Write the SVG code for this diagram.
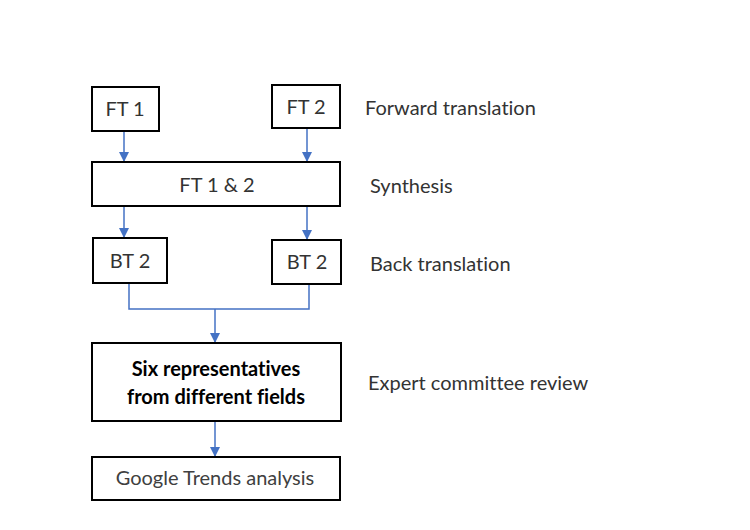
<svg xmlns="http://www.w3.org/2000/svg" width="750" height="530" viewBox="0 0 750 530">
<defs>
<marker id="ah" viewBox="0 0 10 10" refX="10" refY="5" markerWidth="10" markerHeight="10" markerUnits="userSpaceOnUse" orient="auto">
<path d="M0,0 L10,5 L0,10 z" fill="#4472C4"/>
</marker>
</defs>
<style>
.box{fill:#fff;stroke:#000;stroke-width:2}
.t{font-family:Lato,"Open Sans",sans-serif;font-size:20px;fill:#333;text-anchor:middle;font-variant-ligatures:none}
.b{font-weight:bold;fill:#000}
.lab{font-family:Lato,"Open Sans",sans-serif;font-size:20px;fill:#333;font-variant-ligatures:none}
.c{fill:none;stroke:#4472C4;stroke-width:1.5}
</style>
<rect width="750" height="530" fill="#fff"/>
<g id="connectors">
<line class="c" x1="124" y1="131" x2="124" y2="162" marker-end="url(#ah)"/>
<line class="c" x1="307" y1="128" x2="307" y2="162" marker-end="url(#ah)"/>
<line class="c" x1="124" y1="206" x2="124" y2="238" marker-end="url(#ah)"/>
<line class="c" x1="307" y1="206" x2="307" y2="240" marker-end="url(#ah)"/>
<path class="c" d="M129,283 V309 H309 V284"/>
<line class="c" x1="215" y1="309" x2="215" y2="343" marker-end="url(#ah)"/>
<line class="c" x1="215" y1="421" x2="215" y2="457" marker-end="url(#ah)"/>
</g>
<g id="ft1"><rect class="box" x="92" y="87" width="67" height="44"/><text class="t" x="125" y="116">FT 1</text></g>
<g id="ft2"><rect class="box" x="272" y="85" width="68" height="43"/><text class="t" x="306" y="114">FT 2</text></g>
<g id="synthesis"><rect class="box" x="92" y="162" width="248" height="44"/><text class="t" x="217" y="192">FT 1 &amp; 2</text></g>
<g id="bt2a"><rect class="box" x="93" y="238" width="74" height="45"/><text class="t" x="130" y="268">BT 2</text></g>
<g id="bt2b"><rect class="box" x="272" y="240" width="69" height="44"/><text class="t" x="307" y="269">BT 2</text></g>
<g id="expert"><rect class="box" x="92" y="343" width="249" height="78"/>
<text class="t b" x="216" y="376">Six representatives</text>
<text class="t b" x="216" y="404">from different fields</text></g>
<g id="google"><rect class="box" x="92" y="457" width="248" height="43"/><text class="t" x="215" y="485" style="fill:#404040">Google Trends analysis</text></g>
<g id="labels">
<text class="lab" x="365" y="115">Forward translation</text>
<text class="lab" x="370" y="193">Synthesis</text>
<text class="lab" x="370" y="271">Back translation</text>
<text class="lab" x="368" y="390">Expert committee review</text>
</g>
</svg>
